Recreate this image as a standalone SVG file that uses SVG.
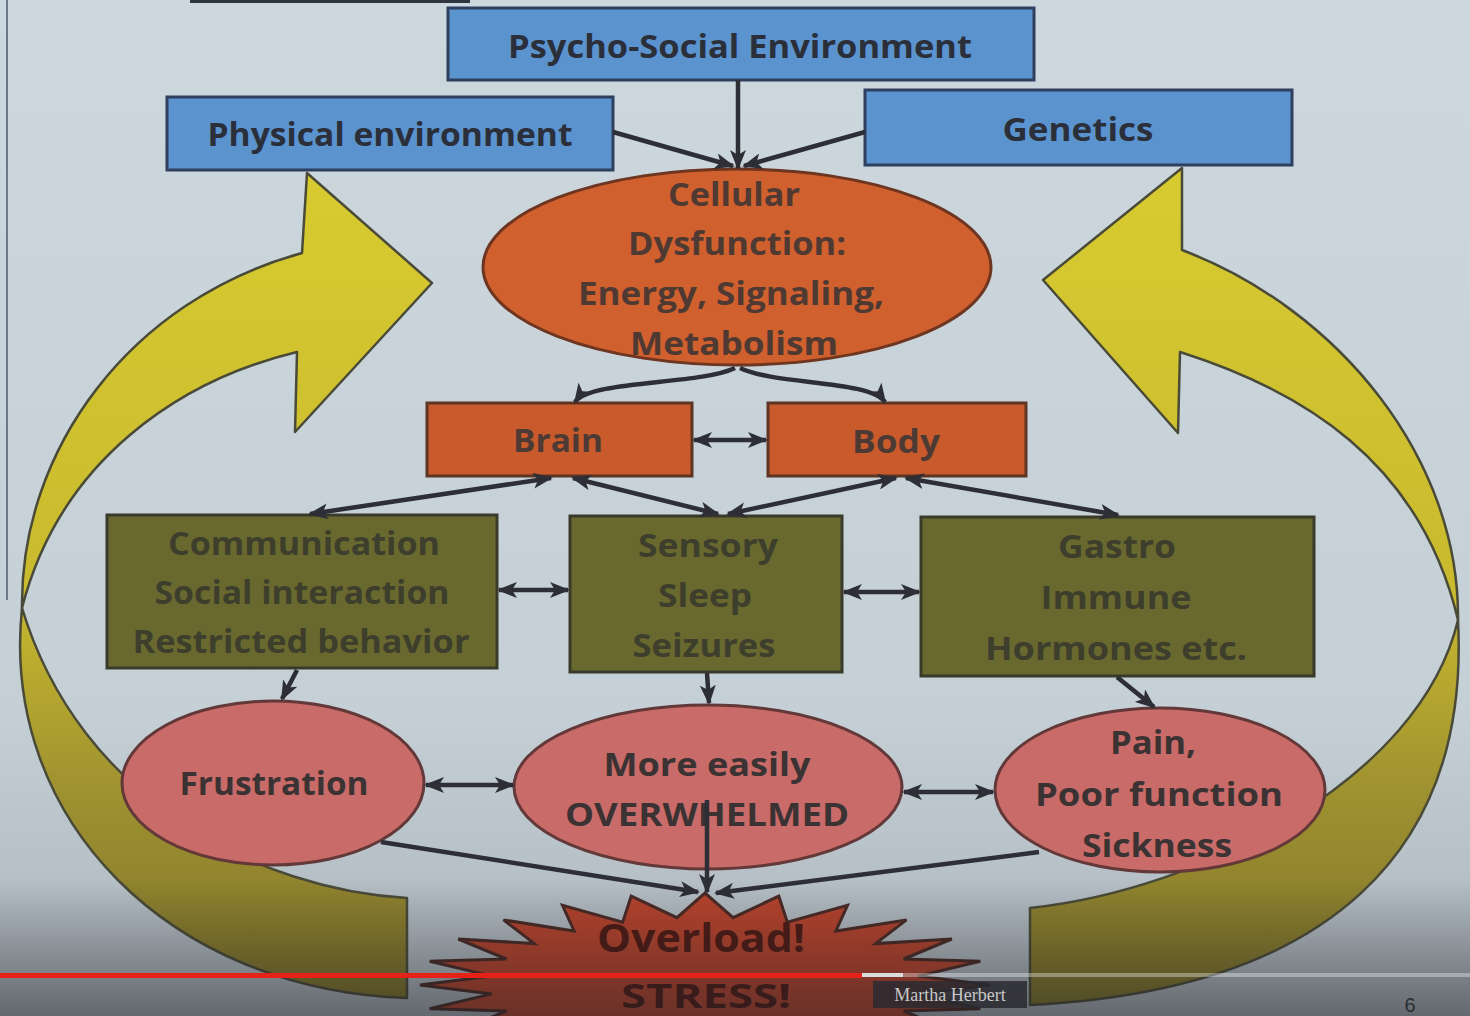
<svg xmlns="http://www.w3.org/2000/svg" width="1470" height="1016" viewBox="0 0 1470 1016">
  <defs>
    <linearGradient id="bgGrad" x1="0" y1="0" x2="0" y2="1016" gradientUnits="userSpaceOnUse">
      <stop offset="0" stop-color="#cdd8de"/>
      <stop offset="0.7" stop-color="#c4cfd6"/>
      <stop offset="1" stop-color="#aab3b9"/>
    </linearGradient>
    <linearGradient id="yellowGrad" x1="0" y1="170" x2="0" y2="1010" gradientUnits="userSpaceOnUse">
      <stop offset="0" stop-color="#d8cb30"/>
      <stop offset="0.5" stop-color="#c9ba2e"/>
      <stop offset="0.75" stop-color="#9d9030"/>
      <stop offset="1" stop-color="#7f732a"/>
    </linearGradient>
    <linearGradient id="shade" x1="0" y1="880" x2="0" y2="1016" gradientUnits="userSpaceOnUse">
      <stop offset="0" stop-color="#1c1e24" stop-opacity="0"/>
      <stop offset="1" stop-color="#1c1e24" stop-opacity="0.5"/>
    </linearGradient>
    <marker id="arr" viewBox="0 0 20 16" refX="18" refY="8" markerWidth="20" markerHeight="16" markerUnits="userSpaceOnUse" orient="auto-start-reverse">
      <path d="M0,0 L20,8 L0,16 L5,8 Z" fill="#2e2e36"/>
    </marker>
    <style>
      .t { font-family: "Open Sans", "Liberation Sans", sans-serif; font-weight: 700; text-anchor: middle; }
      .blue { fill: #5b93cf; stroke: #2f3f5f; stroke-width: 3; }
      .blue-t { fill: #2b2f3a; font-size: 33px; }
      .cell { fill: #d0602e; stroke: #6e3520; stroke-width: 3; }
      .cell-t { fill: #4f3a33; font-size: 32px; }
      .org { fill: #c85a2c; stroke: #5e3522; stroke-width: 3; }
      .org-t { fill: #4d3a35; font-size: 32px; }
      .olive { fill: #69692f; stroke: #3a3a2a; stroke-width: 3; }
      .olive-t { fill: #3e3e2c; font-size: 32px; }
      .pink { fill: #c96b68; stroke: #633838; stroke-width: 3; }
      .pink-t { fill: #3b3333; font-size: 32px; }
      .loop { fill: url(#yellowGrad); stroke: #4a4a38; stroke-width: 2.5; stroke-linejoin: round; }
      .c { fill: none; stroke: #2e2e36; stroke-width: 4.5; }
      .c1 { marker-end: url(#arr); }
      .c2 { marker-start: url(#arr); marker-end: url(#arr); }
    </style>
  </defs>

  <!-- slide background -->
  <rect x="0" y="0" width="1470" height="1016" fill="url(#bgGrad)"/>
  <line x1="7" y1="0" x2="7" y2="600" stroke="#6a7888" stroke-width="2"/>
  <rect x="190" y="0" width="280" height="3" fill="#2e3440"/>

  <!-- feedback loop arrows -->
  <g id="loop-left">
    <path class="loop" d="M407,898 C 260,890 80,800 22,608 C 0,820 170,990 407,998 Z"/>
    <path class="loop" d="M22,608 C 20,450 130,300 302,253 L307,173 L432,283 L295,432 L297,352 C 180,380 60,460 22,608 Z"/>
  </g>
  <g id="loop-right">
    <path class="loop" d="M1030,908 C 1200,890 1420,780 1458,620 C 1470,850 1330,990 1030,1005 Z"/>
    <path class="loop" d="M1458,620 C 1460,460 1340,310 1182,250 L1182,168 L1043,280 L1178,433 L1180,352 C 1300,390 1420,460 1458,620 Z"/>
  </g>

  <!-- nodes -->
  <g id="psycho-social">
    <rect class="blue" x="448" y="8" width="586" height="72"/>
    <text class="t blue-t" x="740" y="58" textLength="464" lengthAdjust="spacingAndGlyphs">Psycho-Social Environment</text>
  </g>
  <g id="physical">
    <rect class="blue" x="167" y="97" width="446" height="73"/>
    <text class="t blue-t" x="390" y="146" textLength="365" lengthAdjust="spacingAndGlyphs">Physical environment</text>
  </g>
  <g id="genetics">
    <rect class="blue" x="865" y="90" width="427" height="75"/>
    <text class="t blue-t" x="1078" y="141" textLength="151" lengthAdjust="spacingAndGlyphs">Genetics</text>
  </g>
  <g id="cellular">
    <ellipse class="cell" cx="737" cy="267" rx="254" ry="98"/>
    <text class="t cell-t" x="734" y="206" textLength="132" lengthAdjust="spacingAndGlyphs">Cellular</text>
    <text class="t cell-t" x="737" y="255" textLength="218" lengthAdjust="spacingAndGlyphs">Dysfunction:</text>
    <text class="t cell-t" x="731" y="305" textLength="306" lengthAdjust="spacingAndGlyphs">Energy, Signaling,</text>
    <text class="t cell-t" x="734" y="355" textLength="208" lengthAdjust="spacingAndGlyphs">Metabolism</text>
  </g>
  <g id="brain">
    <rect class="org" x="427" y="403" width="265" height="73"/>
    <text class="t org-t" x="558" y="452" textLength="90" lengthAdjust="spacingAndGlyphs">Brain</text>
  </g>
  <g id="body">
    <rect class="org" x="768" y="403" width="258" height="73"/>
    <text class="t org-t" x="896" y="453" textLength="88" lengthAdjust="spacingAndGlyphs">Body</text>
  </g>
  <g id="behaviour">
    <rect class="olive" x="107" y="515" width="390" height="153"/>
    <text class="t olive-t" x="304" y="555" textLength="272" lengthAdjust="spacingAndGlyphs">Communication</text>
    <text class="t olive-t" x="302" y="604" textLength="295" lengthAdjust="spacingAndGlyphs">Social interaction</text>
    <text class="t olive-t" x="301" y="653" textLength="337" lengthAdjust="spacingAndGlyphs">Restricted behavior</text>
  </g>
  <g id="sensory">
    <rect class="olive" x="570" y="516" width="272" height="156"/>
    <text class="t olive-t" x="708" y="557" textLength="140" lengthAdjust="spacingAndGlyphs">Sensory</text>
    <text class="t olive-t" x="705" y="607" textLength="94" lengthAdjust="spacingAndGlyphs">Sleep</text>
    <text class="t olive-t" x="704" y="657" textLength="143" lengthAdjust="spacingAndGlyphs">Seizures</text>
  </g>
  <g id="gastro">
    <rect class="olive" x="921" y="517" width="393" height="159"/>
    <text class="t olive-t" x="1117" y="558" textLength="118" lengthAdjust="spacingAndGlyphs">Gastro</text>
    <text class="t olive-t" x="1116" y="609" textLength="151" lengthAdjust="spacingAndGlyphs">Immune</text>
    <text class="t olive-t" x="1116" y="660" textLength="262" lengthAdjust="spacingAndGlyphs">Hormones etc.</text>
  </g>
  <g id="frustration">
    <ellipse class="pink" cx="273" cy="783" rx="151" ry="82"/>
    <text class="t pink-t" x="274" y="795" textLength="189" lengthAdjust="spacingAndGlyphs">Frustration</text>
  </g>
  <g id="overwhelmed">
    <ellipse class="pink" cx="708" cy="787" rx="194" ry="82"/>
    <text class="t pink-t" x="707" y="776" textLength="207" lengthAdjust="spacingAndGlyphs">More easily</text>
    <text class="t pink-t" x="707" y="826" textLength="284" lengthAdjust="spacingAndGlyphs">OVERWHELMED</text>
  </g>
  <g id="pain">
    <ellipse class="pink" cx="1160" cy="790" rx="165" ry="82"/>
    <text class="t pink-t" x="1153" y="754" textLength="86" lengthAdjust="spacingAndGlyphs">Pain,</text>
    <text class="t pink-t" x="1159" y="806" textLength="248" lengthAdjust="spacingAndGlyphs">Poor function</text>
    <text class="t pink-t" x="1157" y="857" textLength="150" lengthAdjust="spacingAndGlyphs">Sickness</text>
  </g>
  <g id="overload">
    <polygon fill="#b8432c" stroke="#4a2a25" stroke-width="3" stroke-linejoin="miter"
      points="990,985 918.2,976.1 980.3,961.2 903.6,959 951.8,939 875.6,943.6 906.5,919.9 835.9,931 847.5,905.3 787.3,922.2 778.8,896.1 733.1,917.6 705,893 676.9,917.6 631.2,896.1 622.7,922.2 562.5,905.3 574.1,931 503.5,919.9 534.4,943.6 458.2,939 506.4,959 429.7,961.2 491.8,976.1 420,985 491.8,993.9 429.7,1008.8 506.4,1011 458.2,1031 534.4,1026.4 503.5,1050.1 574.1,1039 562.5,1064.7 622.7,1047.8 631.2,1073.9 676.9,1052.4 705,1077 733.1,1052.4 778.8,1073.9 787.3,1047.8 847.5,1064.7 835.9,1039 906.5,1050.1 875.6,1026.4 951.8,1031 903.6,1011 980.3,1008.8 918.2,993.9"/>
    <text class="t" x="701" y="952" font-size="40" fill="#4e1a14" textLength="208" lengthAdjust="spacingAndGlyphs">Overload!</text>
    <text class="t" x="706" y="1008" font-size="34" fill="#4e1a14" textLength="170" lengthAdjust="spacingAndGlyphs">STRESS!</text>
  </g>

  <!-- connectors -->
  <g id="connectors">
    <path class="c c1" d="M738,80 L738,168"/>
    <path class="c c1" d="M613,132 L733,166"/>
    <path class="c c1" d="M865,132 L744,166"/>
    <path class="c c1" d="M735,368 C 700,385 590,380 575,402"/>
    <path class="c c1" d="M740,368 C 775,385 870,380 885,402"/>
    <path class="c c2" d="M694,440 L766,440"/>
    <path class="c c2" d="M551,478 L310,514"/>
    <path class="c c2" d="M573,478 L718,514"/>
    <path class="c c2" d="M896,478 L728,514"/>
    <path class="c c2" d="M906,478 L1118,515"/>
    <path class="c c2" d="M499,590 L568,590"/>
    <path class="c c2" d="M844,592 L919,592"/>
    <path class="c c1" d="M297,670 L282,699"/>
    <path class="c c1" d="M707,673 L709,703"/>
    <path class="c c1" d="M1117,677 L1154,707"/>
    <path class="c c2" d="M426,785 L513,785"/>
    <path class="c c2" d="M904,792 L993,792"/>
    <path class="c c1" d="M381,842 L698,892"/>
    <path class="c c1" d="M707,800 L707,892"/>
    <path class="c c1" d="M1039,852 L716,893"/>
  </g>

  <!-- player overlay along the bottom edge -->
  <rect x="0" y="880" width="1470" height="136" fill="url(#shade)"/>
  <rect x="903" y="973" width="567" height="4" fill="#ffffff" fill-opacity="0.35"/>
  <rect x="862" y="973" width="41" height="4" fill="#dcdcdc"/>
  <rect x="0" y="973" width="862" height="5" fill="#e62117"/>
  <rect x="873" y="981" width="154" height="27" fill="#2a2a30" fill-opacity="0.85"/>
  <text x="950" y="1001" font-family="Liberation Serif, serif" font-size="18" fill="#c8c8c8" text-anchor="middle">Martha Herbert</text>
  <text x="1410" y="1012" font-family="Liberation Sans, sans-serif" font-size="20" fill="#2a2c30" text-anchor="middle">6</text>
</svg>
